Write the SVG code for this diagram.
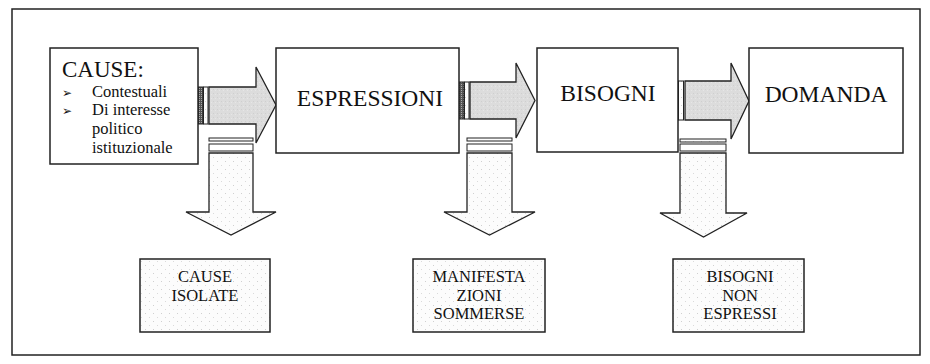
<svg xmlns="http://www.w3.org/2000/svg" width="930" height="364" viewBox="0 0 930 364">
<style>
.frame{fill:none;stroke:#222;stroke-width:1.5}
.box{fill:#fff;stroke:#222;stroke-width:1.5}
.res{fill:url(#dots);stroke:#222;stroke-width:1.5}
.rarrow{fill:url(#gray);stroke:#222;stroke-width:1.3;stroke-linejoin:miter}
.darrow{fill:url(#dots);stroke:#222;stroke-width:1.3}
.hatch{fill:url(#vstripe);stroke:#222;stroke-width:1}
.bar{fill:#fff;stroke:#222;stroke-width:1}
.bar2{fill:url(#dots);stroke:#222;stroke-width:1}
.t{font-family:"Liberation Serif","Times New Roman",serif;fill:#111}
.big{font-size:23.5px;text-anchor:middle}
.lbl{font-size:16.5px;text-anchor:middle}
.bul{font-family:"DejaVu Sans",sans-serif;font-size:12px;fill:#111}
</style>
<defs>
<pattern id="dots" width="8" height="8" patternUnits="userSpaceOnUse">
<rect width="8" height="8" fill="#fcfcfc"/>
<rect x="1" y="1" width="1" height="1" fill="#d0d0d0"/>
<rect x="5" y="5" width="1" height="1" fill="#dadada"/>
</pattern>
<pattern id="gray" width="4" height="4" patternUnits="userSpaceOnUse">
<rect width="4" height="4" fill="#dcdcdc"/>
<rect x="1" y="1" width="1" height="1" fill="#cfcfcf"/>
<rect x="3" y="2" width="1" height="1" fill="#e6e6e6"/>
</pattern>
<pattern id="vstripe" width="2" height="2" patternUnits="userSpaceOnUse">
<rect width="2" height="2" fill="#555"/>
<rect x="1" y="0" width="1" height="1" fill="#aaa"/>
</pattern>
</defs>

<rect class="frame" x="12" y="9" width="908" height="346"/>

<g id="connectors">
  <g id="arrow-cause-espressioni">
    <rect class="hatch" x="198" y="87" width="5" height="37"/>
    <rect class="bar2" x="203.5" y="87" width="4.5" height="37"/>
    <polygon class="rarrow" points="209,87 256,87 256,67 276,105 256,143 256,124 209,124"/>
  </g>
  <g id="arrow-espressioni-bisogni">
    <rect class="hatch" x="459" y="82" width="5" height="37"/>
    <rect class="bar2" x="464.5" y="82" width="4.5" height="37"/>
    <polygon class="rarrow" points="470,82 516,82 516,63 535,100.5 516,138 516,119 470,119"/>
  </g>
  <g id="arrow-bisogni-domanda">
    <rect class="hatch" x="672" y="81" width="6" height="39"/>
    <rect class="bar2" x="678.5" y="81" width="5" height="39"/>
    <polygon class="rarrow" points="685,81 731,81 731,63 749,101 731,139 731,120 685,120"/>
  </g>
  <g id="arrow-down-1">
    <rect class="bar2" x="209" y="138" width="44" height="3"/>
    <rect class="bar" x="209" y="144" width="44" height="7"/>
    <polygon class="darrow" points="209,153 253,153 253,212 276,212 231,235 186,212 209,212"/>
  </g>
  <g id="arrow-down-2">
    <rect class="bar2" x="467" y="138" width="45" height="3"/>
    <rect class="bar" x="467" y="144" width="45" height="7"/>
    <polygon class="darrow" points="467,153 512,153 512,212 535,212 489.5,235 444,212 467,212"/>
  </g>
  <g id="arrow-down-3">
    <rect class="bar2" x="680" y="139" width="46" height="3"/>
    <rect class="bar" x="680" y="144" width="46" height="7"/>
    <polygon class="darrow" points="680,153 726,153 726,213 747,213 703.5,237 660,213 680,213"/>
  </g>
</g>

<g id="node-cause">
  <rect class="box" x="50" y="48" width="148" height="116"/>
  <text class="t" x="62" y="77" font-size="23">CAUSE:</text>
  <text class="bul" x="62" y="97">➢</text>
  <text class="bul" x="62" y="115">➢</text>
  <text class="t" x="92" y="97" font-size="16.5">Contestuali</text>
  <text class="t" x="92" y="115" font-size="16.5">Di interesse</text>
  <text class="t" x="92" y="134" font-size="16.5">politico</text>
  <text class="t" x="92" y="153" font-size="16.5">istituzionale</text>
</g>

<g id="node-espressioni">
  <rect class="box" x="276" y="48" width="183" height="105"/>
  <text class="t big" x="370" y="106">ESPRESSIONI</text>
</g>

<g id="node-bisogni">
  <rect class="box" x="537" y="48" width="141" height="104"/>
  <text class="t big" x="608" y="101">BISOGNI</text>
</g>

<g id="node-domanda">
  <rect class="box" x="749" y="48" width="154" height="105"/>
  <text class="t big" x="826" y="102">DOMANDA</text>
</g>

<g id="node-cause-isolate">
  <rect class="res" x="140" y="259" width="130" height="73"/>
  <text class="t lbl" x="205" y="282">CAUSE</text>
  <text class="t lbl" x="205" y="301">ISOLATE</text>
</g>

<g id="node-manifestazioni">
  <rect class="res" x="413" y="259" width="132" height="73"/>
  <text class="t lbl" x="479" y="282">MANIFESTA</text>
  <text class="t lbl" x="479" y="301">ZIONI</text>
  <text class="t lbl" x="479" y="319">SOMMERSE</text>
</g>

<g id="node-bisogni-non-espressi">
  <rect class="res" x="673" y="259" width="131" height="73"/>
  <text class="t lbl" x="740" y="282">BISOGNI</text>
  <text class="t lbl" x="740" y="301">NON</text>
  <text class="t lbl" x="740" y="319">ESPRESSI</text>
</g>
</svg>
